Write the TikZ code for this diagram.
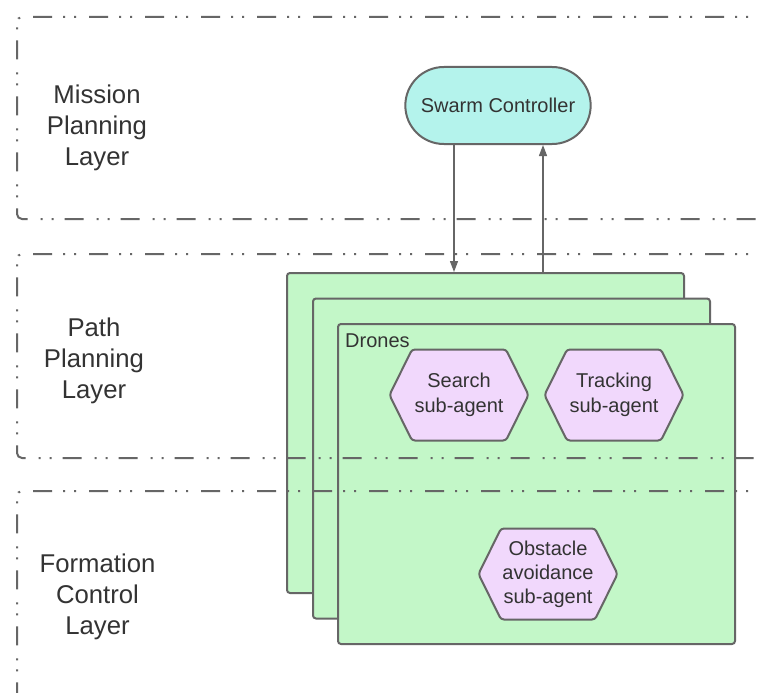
\documentclass[tikz,border=0pt]{standalone}
\usepackage{fontspec}
\setmainfont{Liberation Sans}
\usetikzlibrary{shapes.misc,arrows.meta}
\definecolor{edge}{HTML}{666666}
\definecolor{txt}{HTML}{333333}
\definecolor{cyanfill}{HTML}{B4F3EC}
\definecolor{greenfill}{HTML}{C3F7C8}
\definecolor{purplefill}{HTML}{F1D8FC}
\tikzset{
  layerline/.style={draw=edge, line width=2, rounded corners=5,
    dash pattern=on 19 off 13 on 2 off 9 on 2 off 11},
  layerlabel/.style={text=txt, align=center, font=\fontsize{25.7}{31}\selectfont},
  ctrl/.style={rounded rectangle, draw=edge, line width=2, fill=cyanfill,
    minimum width=192, minimum height=77, text=txt, font=\fontsize{20}{24}\selectfont},
  dronebox/.style={rectangle, draw=edge, line width=2, fill=greenfill, rounded corners=3,
    minimum width=397, minimum height=320, inner sep=0},
  hextext/.style={text=txt, align=center, inner sep=0, font=\fontsize{20}{25}\selectfont},
  hexline/.style={draw=edge, line width=2, fill=purplefill, rounded corners=3},
  hexagon/.pic={\path[hexline] (-69.5,0) -- (-47,-45.5) -- (47,-45.5) -- (69.5,0)
      -- (47,45.5) -- (-47,45.5) -- cycle;},
  arr/.style={draw=edge, line width=1.3, -{Triangle[length=11,width=8]}},
  plain/.style={text=txt, inner sep=0, font=\fontsize{20}{24}\selectfont}
}
\begin{document}
\begin{tikzpicture}[x=1pt,y=-1pt]
\useasboundingbox (0,0) rectangle (761,693);
\clip (0,0) rectangle (761,693);
\fill[white] (0,0) rectangle (761,693);

% drones stack
\node[dronebox] (d1) at (485.5,433) {};
\node[dronebox] (d2) at (511.5,458.5) {};
\node[dronebox] (d3) at (536.5,484) {};
\node[plain, anchor=base west] (dlabel) at (345,347) {Drones};

% hexagons
\pic at (459,395) {hexagon};
\node[hextext] (search) at (459,395) {Search\\sub-agent};
\pic at (614,395) {hexagon};
\node[hextext] (track) at (614,395) {Tracking\\sub-agent};
\pic at (548,574) {hexagon};
\node[hextext, font=\fontsize{20}{24}\selectfont] (obst) at (548,574) {Obstacle\\avoidance\\sub-agent};

% controller
\node[ctrl] (swarm) at (498,105.5) {Swarm Controller};
\draw[arr] ([xshift=-44]swarm.south) -- ([xshift=-44]swarm.south |- d1.north);
\draw[arr] ([xshift=45]swarm.south |- d1.north) -- ([xshift=45]swarm.south);

% layers
\coordinate (l1a) at (780,17);
\coordinate (l1b) at (780,219);
\draw[layerline] (l1a) -- (17,17) -- (17,219) -- (l1b);
\coordinate (l2a) at (780,254);
\coordinate (l2b) at (780,458);
\draw[layerline] (l2a) -- (17,254) -- (17,458) -- (l2b);
\coordinate (l3a) at (780,491);
\coordinate (l3b) at (17,710);
\draw[layerline] (l3a) -- (17,491) -- (l3b);

\node[layerlabel] (mpl) at (97,128) {Mission\\Planning\\Layer};
\node[layerlabel] (ppl) at (94,361) {Path\\Planning\\Layer};
\node[layerlabel] (fcl) at (97.5,597) {Formation\\Control\\Layer};
\end{tikzpicture}
\end{document}
